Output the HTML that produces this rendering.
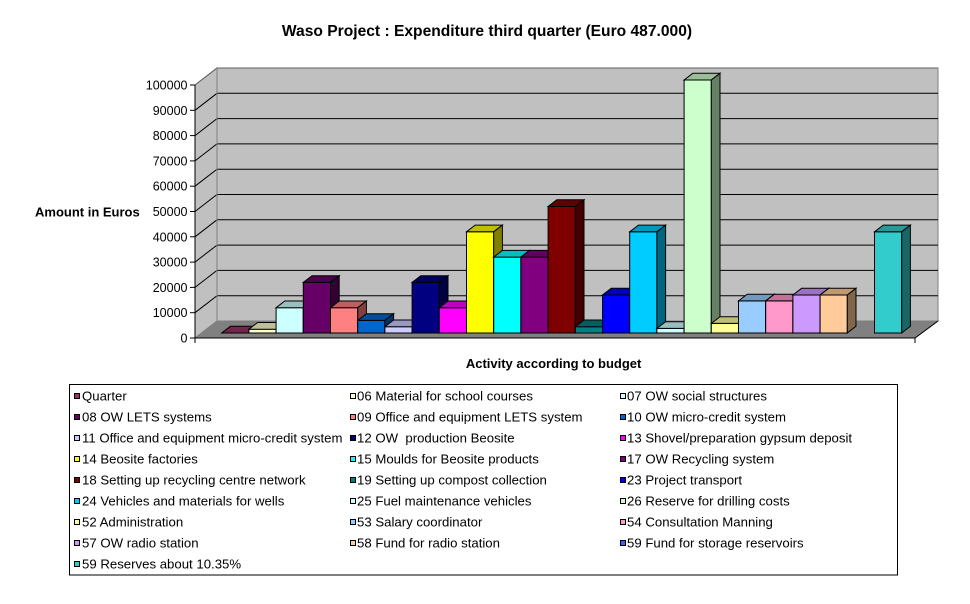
<!DOCTYPE html>
<html>
<head>
<meta charset="utf-8">
<style>
html,body{margin:0;padding:0;background:#fff;}
svg{display:block;}
text{font-family:"Liberation Sans",Arial,sans-serif;fill:#000;}
.t{font-size:12.5px;}
.lg{font-size:13.2px;white-space:pre;}
</style>
</head>
<body>
<svg width="970" height="604" viewBox="0 0 970 604" xmlns="http://www.w3.org/2000/svg">
<rect x="0" y="0" width="970" height="604" fill="#fff"/>

<!-- Title -->
<text x="487" y="36" font-size="15.6" font-weight="bold" text-anchor="middle">Waso Project : Expenditure third quarter (Euro 487.000)</text>

<!-- Walls -->
<polygon points="195,85 217,68 217,321 195,338" fill="#C0C0C0" stroke="#808080" stroke-width="1"/>
<rect x="217" y="68" width="721" height="253" fill="#C0C0C0" stroke="#808080" stroke-width="1"/>

<!-- Gridlines -->
<g stroke="#000" stroke-width="1" fill="none">
<polyline points="195,312.7 217,295.7 938,295.7"/>
<polyline points="195,287.4 217,270.4 938,270.4"/>
<polyline points="195,262.1 217,245.1 938,245.1"/>
<polyline points="195,236.8 217,219.8 938,219.8"/>
<polyline points="195,211.5 217,194.5 938,194.5"/>
<polyline points="195,186.2 217,169.2 938,169.2"/>
<polyline points="195,160.9 217,143.9 938,143.9"/>
<polyline points="195,135.6 217,118.6 938,118.6"/>
<polyline points="195,110.3 217,93.3 938,93.3"/>
</g>
<polyline points="195,85 217,68 938,68" stroke="#606060" stroke-width="1" fill="none"/>
<line x1="217" y1="68" x2="217" y2="321" stroke="#808080" stroke-width="1"/>

<!-- Floor -->
<polygon points="195,338 217,321 938,321 915,338" fill="#808080" stroke="#808080" stroke-width="1"/>
<line x1="915" y1="338" x2="938" y2="321" stroke="#000" stroke-width="1"/>
<line x1="195" y1="338" x2="915" y2="338" stroke="#000" stroke-width="1"/>
<line x1="915" y1="338" x2="915" y2="343" stroke="#000" stroke-width="1"/>

<!-- Y axis -->
<line x1="195" y1="85" x2="195" y2="343" stroke="#000" stroke-width="1"/>
<g stroke="#000" stroke-width="1">
<line x1="190" y1="338" x2="195" y2="338"/>
<line x1="190" y1="312.7" x2="195" y2="312.7"/>
<line x1="190" y1="287.4" x2="195" y2="287.4"/>
<line x1="190" y1="262.1" x2="195" y2="262.1"/>
<line x1="190" y1="236.8" x2="195" y2="236.8"/>
<line x1="190" y1="211.5" x2="195" y2="211.5"/>
<line x1="190" y1="186.2" x2="195" y2="186.2"/>
<line x1="190" y1="160.9" x2="195" y2="160.9"/>
<line x1="190" y1="135.6" x2="195" y2="135.6"/>
<line x1="190" y1="110.3" x2="195" y2="110.3"/>
<line x1="190" y1="85" x2="195" y2="85"/>
</g>
<g class="t" text-anchor="end">
<text x="187.5" y="342.5">0</text>
<text x="187.5" y="317.2">10000</text>
<text x="187.5" y="291.9">20000</text>
<text x="187.5" y="266.6">30000</text>
<text x="187.5" y="241.3">40000</text>
<text x="187.5" y="216">50000</text>
<text x="187.5" y="190.7">60000</text>
<text x="187.5" y="165.4">70000</text>
<text x="187.5" y="140.1">80000</text>
<text x="187.5" y="114.8">90000</text>
<text x="187.5" y="89.5">100000</text>
</g>

<text x="35" y="216.3" font-size="13" font-weight="bold">Amount in Euros</text>
<text x="553.6" y="368" font-size="13" font-weight="bold" text-anchor="middle">Activity according to budget</text>

<!-- Bars -->
<g stroke="#000" stroke-width="1" stroke-linejoin="miter">
<polygon points="221.7,333 230.4,326.3 257.6,326.3 248.9,333" fill="#73264D"/>
<rect x="248.9" y="329.2" width="27.2" height="3.8" fill="#FFFFCC"/>
<polygon points="248.9,329.2 257.6,322.5 284.8,322.5 276.1,329.2" fill="#BFBF99"/>
<polygon points="276.1,329.2 284.8,322.5 284.8,326.3 276.1,333" fill="#808066"/>
<rect x="276.1" y="307.7" width="27.2" height="25.3" fill="#CCFFFF"/>
<polygon points="276.1,307.7 284.8,301 312,301 303.3,307.7" fill="#99BFBF"/>
<polygon points="303.3,307.7 312,301 312,326.3 303.3,333" fill="#668080"/>
<rect x="303.3" y="282.4" width="27.2" height="50.6" fill="#660066"/>
<polygon points="303.3,282.4 312,275.7 339.2,275.7 330.5,282.4" fill="#4D004D"/>
<polygon points="330.5,282.4 339.2,275.7 339.2,326.3 330.5,333" fill="#330033"/>
<rect x="330.5" y="307.7" width="27.2" height="25.3" fill="#FF8080"/>
<polygon points="330.5,307.7 339.2,301 366.4,301 357.7,307.7" fill="#BF6060"/>
<polygon points="357.7,307.7 366.4,301 366.4,326.3 357.7,333" fill="#804040"/>
<rect x="357.7" y="320.4" width="27.2" height="12.6" fill="#0066CC"/>
<polygon points="357.7,320.4 366.4,313.7 393.6,313.7 384.9,320.4" fill="#004D99"/>
<polygon points="384.9,320.4 393.6,313.7 393.6,326.3 384.9,333" fill="#003366"/>
<rect x="384.9" y="326.7" width="27.2" height="6.3" fill="#CCCCFF"/>
<polygon points="384.9,326.7 393.6,320 420.8,320 412.1,326.7" fill="#9999BF"/>
<polygon points="412.1,326.7 420.8,320 420.8,326.3 412.1,333" fill="#666680"/>
<rect x="412.1" y="282.4" width="27.2" height="50.6" fill="#000080"/>
<polygon points="412.1,282.4 420.8,275.7 448,275.7 439.3,282.4" fill="#000060"/>
<polygon points="439.3,282.4 448,275.7 448,326.3 439.3,333" fill="#000040"/>
<rect x="439.3" y="307.7" width="27.2" height="25.3" fill="#FF00FF"/>
<polygon points="439.3,307.7 448,301 475.2,301 466.5,307.7" fill="#BF00BF"/>
<polygon points="466.5,307.7 475.2,301 475.2,326.3 466.5,333" fill="#800080"/>
<rect x="466.5" y="231.8" width="27.2" height="101.2" fill="#FFFF00"/>
<polygon points="466.5,231.8 475.2,225.1 502.4,225.1 493.7,231.8" fill="#BFBF00"/>
<polygon points="493.7,231.8 502.4,225.1 502.4,326.3 493.7,333" fill="#808000"/>
<rect x="493.7" y="257.1" width="27.2" height="75.9" fill="#00FFFF"/>
<polygon points="493.7,257.1 502.4,250.4 529.6,250.4 520.9,257.1" fill="#00BFBF"/>
<polygon points="520.9,257.1 529.6,250.4 529.6,326.3 520.9,333" fill="#008080"/>
<rect x="520.9" y="257.1" width="27.2" height="75.9" fill="#800080"/>
<polygon points="520.9,257.1 529.6,250.4 556.8,250.4 548.1,257.1" fill="#600060"/>
<polygon points="548.1,257.1 556.8,250.4 556.8,326.3 548.1,333" fill="#400040"/>
<rect x="548.1" y="206.5" width="27.2" height="126.5" fill="#800000"/>
<polygon points="548.1,206.5 556.8,199.8 584,199.8 575.3,206.5" fill="#600000"/>
<polygon points="575.3,206.5 584,199.8 584,326.3 575.3,333" fill="#400000"/>
<rect x="575.3" y="326.7" width="27.2" height="6.3" fill="#008080"/>
<polygon points="575.3,326.7 584,320 611.2,320 602.5,326.7" fill="#006060"/>
<polygon points="602.5,326.7 611.2,320 611.2,326.3 602.5,333" fill="#004040"/>
<rect x="602.5" y="295" width="27.2" height="38" fill="#0000FF"/>
<polygon points="602.5,295 611.2,288.3 638.4,288.3 629.7,295" fill="#0000BF"/>
<polygon points="629.7,295 638.4,288.3 638.4,326.3 629.7,333" fill="#000080"/>
<rect x="629.7" y="231.8" width="27.2" height="101.2" fill="#00CCFF"/>
<polygon points="629.7,231.8 638.4,225.1 665.6,225.1 656.9,231.8" fill="#0099BF"/>
<polygon points="656.9,231.8 665.6,225.1 665.6,326.3 656.9,333" fill="#006680"/>
<rect x="656.9" y="328.4" width="27.2" height="4.6" fill="#CCFFFF"/>
<polygon points="656.9,328.4 665.6,321.7 692.8,321.7 684.1,328.4" fill="#99BFBF"/>
<polygon points="684.1,328.4 692.8,321.7 692.8,326.3 684.1,333" fill="#668080"/>
<rect x="684.1" y="80" width="27.2" height="253" fill="#CCFFCC"/>
<polygon points="684.1,80 692.8,73.3 720,73.3 711.3,80" fill="#99BF99"/>
<polygon points="711.3,80 720,73.3 720,326.3 711.3,333" fill="#668066"/>
<rect x="711.3" y="323.4" width="27.2" height="9.6" fill="#FFFF99"/>
<polygon points="711.3,323.4 720,316.7 747.2,316.7 738.5,323.4" fill="#BFBF73"/>
<polygon points="738.5,323.4 747.2,316.7 747.2,326.3 738.5,333" fill="#80804D"/>
<rect x="738.5" y="300.9" width="27.2" height="32.1" fill="#99CCFF"/>
<polygon points="738.5,300.9 747.2,294.2 774.4,294.2 765.7,300.9" fill="#7399BF"/>
<polygon points="765.7,300.9 774.4,294.2 774.4,326.3 765.7,333" fill="#4D6680"/>
<rect x="765.7" y="300.9" width="27.2" height="32.1" fill="#FF99CC"/>
<polygon points="765.7,300.9 774.4,294.2 801.6,294.2 792.9,300.9" fill="#BF7399"/>
<polygon points="792.9,300.9 801.6,294.2 801.6,326.3 792.9,333" fill="#804D66"/>
<rect x="792.9" y="295" width="27.2" height="38" fill="#CC99FF"/>
<polygon points="792.9,295 801.6,288.3 828.8,288.3 820.1,295" fill="#9973BF"/>
<polygon points="820.1,295 828.8,288.3 828.8,326.3 820.1,333" fill="#664D80"/>
<rect x="820.1" y="295" width="27.2" height="38" fill="#FFCC99"/>
<polygon points="820.1,295 828.8,288.3 856,288.3 847.3,295" fill="#BF9973"/>
<polygon points="847.3,295 856,288.3 856,326.3 847.3,333" fill="#80664D"/>
<rect x="874.5" y="231.8" width="27.2" height="101.2" fill="#33CCCC"/>
<polygon points="874.5,231.8 883.2,225.1 910.4,225.1 901.7,231.8" fill="#269999"/>
<polygon points="901.7,231.8 910.4,225.1 910.4,326.3 901.7,333" fill="#1A6666"/>
</g>

<!-- Legend -->
<rect x="69.5" y="384.5" width="828" height="190.5" fill="#fff" stroke="#000" stroke-width="1"/>
<g stroke="#000" stroke-width="1">
<rect x="74.5" y="393.5" width="5" height="5" fill="#993366"/>
<rect x="350.5" y="393.5" width="5" height="5" fill="#FFFFCC"/>
<rect x="620.5" y="393.5" width="5" height="5" fill="#CCFFFF"/>
<rect x="74.5" y="414.5" width="5" height="5" fill="#660066"/>
<rect x="350.5" y="414.5" width="5" height="5" fill="#FF8080"/>
<rect x="620.5" y="414.5" width="5" height="5" fill="#0066CC"/>
<rect x="74.5" y="435.5" width="5" height="5" fill="#CCCCFF"/>
<rect x="350.5" y="435.5" width="5" height="5" fill="#000080"/>
<rect x="620.5" y="435.5" width="5" height="5" fill="#FF00FF"/>
<rect x="74.5" y="456.5" width="5" height="5" fill="#FFFF00"/>
<rect x="350.5" y="456.5" width="5" height="5" fill="#00FFFF"/>
<rect x="620.5" y="456.5" width="5" height="5" fill="#800080"/>
<rect x="74.5" y="477.5" width="5" height="5" fill="#800000"/>
<rect x="350.5" y="477.5" width="5" height="5" fill="#008080"/>
<rect x="620.5" y="477.5" width="5" height="5" fill="#0000FF"/>
<rect x="74.5" y="498.5" width="5" height="5" fill="#00CCFF"/>
<rect x="350.5" y="498.5" width="5" height="5" fill="#CCFFFF"/>
<rect x="620.5" y="498.5" width="5" height="5" fill="#CCFFCC"/>
<rect x="74.5" y="519.5" width="5" height="5" fill="#FFFF99"/>
<rect x="350.5" y="519.5" width="5" height="5" fill="#99CCFF"/>
<rect x="620.5" y="519.5" width="5" height="5" fill="#FF99CC"/>
<rect x="74.5" y="540.5" width="5" height="5" fill="#CC99FF"/>
<rect x="350.5" y="540.5" width="5" height="5" fill="#FFCC99"/>
<rect x="620.5" y="540.5" width="5" height="5" fill="#3366FF"/>
<rect x="74.5" y="561.5" width="5" height="5" fill="#33CCCC"/>
</g>
<g class="lg">
<text x="82" y="400.5">Quarter</text>
<text x="357" y="400.5">06 Material for school courses</text>
<text x="627" y="400.5">07 OW social structures</text>
<text x="82" y="421.5">08 OW LETS systems</text>
<text x="357" y="421.5">09 Office and equipment LETS system</text>
<text x="627" y="421.5">10 OW micro-credit system</text>
<text x="82" y="442.5">11 Office and equipment micro-credit system</text>
<text x="357" y="442.5" xml:space="preserve">12 OW  production Beosite</text>
<text x="627" y="442.5">13 Shovel/preparation gypsum deposit</text>
<text x="82" y="463.5">14 Beosite factories</text>
<text x="357" y="463.5">15 Moulds for Beosite products</text>
<text x="627" y="463.5">17 OW Recycling system</text>
<text x="82" y="484.5">18 Setting up recycling centre network</text>
<text x="357" y="484.5">19 Setting up compost collection</text>
<text x="627" y="484.5">23 Project transport</text>
<text x="82" y="505.5">24 Vehicles and materials for wells</text>
<text x="357" y="505.5">25 Fuel maintenance vehicles</text>
<text x="627" y="505.5">26 Reserve for drilling costs</text>
<text x="82" y="526.5">52 Administration</text>
<text x="357" y="526.5">53 Salary coordinator</text>
<text x="627" y="526.5">54 Consultation Manning</text>
<text x="82" y="547.5">57 OW radio station</text>
<text x="357" y="547.5">58 Fund for radio station</text>
<text x="627" y="547.5">59 Fund for storage reservoirs</text>
<text x="82" y="568.5">59 Reserves about 10.35%</text>
</g>
</svg>
</body>
</html>
